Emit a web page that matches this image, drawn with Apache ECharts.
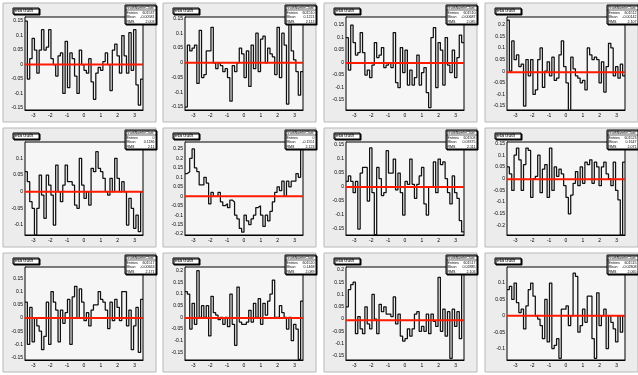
<!DOCTYPE html>
<html><head><meta charset="utf-8">
<script src="https://cdn.jsdelivr.net/npm/echarts@6/dist/echarts.min.js"></script>
<style>html,body{margin:0;padding:0;background:#fff;}#c{width:638px;height:375px;}</style>
</head><body><div id="c"></div><script>
// eta axis of every histogram
const etaMin = -3.5, etaMax = 3.5, nBins = 50;
const etaTicks = [-3, -2, -1, 0, 1, 2, 3];

// bin contents of the twelve "eta truth" histograms
const h1 = [0.15,-0.05,0.02,0.09,0.05,-0.03,0.05,0.12,0.05,0.06,0.12,0.02,0.0,-0.04,0.03,0.04,-0.1,0.08,-0.08,0.04,0.02,-0.04,-0.1,0.05,0.0,-0.02,-0.03,0.02,-0.06,-0.12,-0.03,-0.01,-0.02,0.01,0.04,0.0,-0.09,0.05,0.07,0.03,-0.03,0.1,0.03,-0.03,0.11,-0.02,0.12,-0.07,-0.14,-0.05];
const h2 = [-0.15,0.06,0.04,0.05,0.06,-0.07,0.11,-0.05,-0.04,0.04,0.04,0.12,0.0,-0.02,0.0,-0.01,-0.03,-0.02,-0.05,-0.13,-0.01,-0.03,0.0,0.05,0.03,-0.05,0.04,-0.08,0.06,-0.02,0.1,-0.03,0.08,0.09,0.0,0.05,0.03,0.02,-0.04,0.12,-0.05,0.1,0.06,-0.14,0.13,0.04,0.01,-0.03,-0.11,-0.03];
const h3 = [0.1,-0.03,0.15,0.08,0.03,0.04,0.12,0.04,-0.05,-0.03,-0.06,-0.01,0.08,0.02,0.03,0.06,-0.02,-0.01,0.0,-0.02,0.12,-0.08,-0.1,0.06,-0.04,0.05,-0.09,-0.03,-0.09,-0.06,0.03,-0.09,-0.04,-0.02,-0.12,-0.18,0.1,0.14,-0.1,0.08,0.05,-0.09,0.1,-0.01,-0.04,0.05,-0.06,0.02,0.11,0.08];
const h4 = [0.22,0.0,0.13,0.05,0.07,0.02,0.03,-0.15,0.05,-0.02,0.05,-0.1,-0.08,0.05,0.1,-0.07,0.0,0.04,-0.02,0.06,-0.04,-0.03,0.07,0.13,0.02,-0.05,-0.18,0.06,0.01,-0.02,-0.03,-0.05,-0.04,-0.08,0.1,0.07,0.05,0.06,0.05,-0.05,0.04,-0.09,0.02,0.12,0.1,-0.02,0.02,-0.03,0.03,-0.02];
const h5 = [0.06,0.03,-0.03,-0.05,-0.13,-0.05,0.05,-0.01,-0.08,0.05,0.02,-0.01,-0.1,0.08,0.0,-0.03,0.02,0.08,0.03,0.03,0.02,-0.04,-0.05,0.1,0.02,-0.02,0.0,-0.04,0.07,0.06,0.12,0.07,0.06,0.04,0.0,-0.01,0.04,0.0,0.1,0.04,0.0,0.03,0.0,-0.1,-0.02,-0.05,-0.11,-0.07,-0.12,0.0];
const h6 = [0.12,0.13,0.2,0.25,0.15,0.13,0.06,0.06,0.1,0.07,-0.04,0.02,0.0,0.0,0.02,-0.03,-0.05,-0.04,-0.06,-0.02,-0.03,-0.1,-0.12,-0.17,-0.19,-0.1,-0.13,-0.15,-0.12,-0.1,-0.06,-0.05,-0.1,-0.16,-0.1,-0.13,-0.08,-0.03,0.02,0.05,0.03,0.08,0.0,0.08,0.05,0.08,0.08,0.12,0.1,0.28];
const h7 = [0.02,0.04,0.02,-0.02,0.02,-0.15,0.05,0.07,0.07,-0.05,0.14,-0.02,-0.17,0.07,0.03,-0.03,-0.02,0.13,0.05,0.05,0.1,-0.01,0.05,-0.02,-0.1,0.02,0.01,0.1,0.01,-0.04,0.01,0.04,0.07,-0.06,-0.1,0.0,0.0,0.09,-0.02,0.1,0.08,0.09,0.03,-0.02,-0.06,0.04,-0.02,-0.04,-0.12,-0.16];
const h8 = [0.05,0.02,-0.05,0.1,0.13,0.08,-0.05,0.06,0.13,0.12,-0.08,0.0,0.01,0.1,-0.06,0.04,0.06,-0.08,0.13,-0.05,0.05,0.01,0.04,0.02,-0.03,-0.08,-0.15,-0.07,-0.02,0.03,-0.03,0.05,-0.02,0.07,0.06,0.08,-0.02,0.07,0.05,-0.03,0.05,0.07,0.02,0.0,-0.03,0.07,-0.05,-0.09,-0.24,0.07];
const h9 = [0.06,-0.1,0.04,-0.09,0.0,-0.03,-0.05,-0.12,-0.07,0.06,-0.1,0.1,0.06,0.03,-0.09,0.03,-0.02,0.02,0.07,-0.1,0.08,0.12,0.0,0.11,0.06,-0.01,0.02,-0.03,0.03,0.05,0.05,0.1,0.07,0.06,0.03,-0.04,0.06,-0.01,0.07,0.04,-0.01,0.1,0.1,-0.03,0.03,-0.12,-0.03,0.04,-0.13,0.07];
const h10 = [0.11,0.1,-0.05,0.06,-0.03,0.2,0.0,0.05,0.0,0.05,-0.08,0.09,0.02,0.01,-0.01,0.0,-0.03,0.0,-0.04,0.1,-0.03,-0.12,0.13,-0.02,-0.03,-0.03,-0.02,0.03,-0.02,0.06,0.0,0.08,-0.03,0.06,0.01,0.07,0.1,0.16,0.0,0.0,0.05,0.02,0.0,-0.05,0.0,-0.1,-0.03,-0.05,-0.18,0.07];
const h11 = [0.05,0.12,0.14,0.15,-0.06,0.01,-0.04,-0.06,0.05,-0.02,-0.04,0.1,0.0,-0.06,0.06,0.03,0.05,0.02,0.02,0.01,0.09,-0.02,0.02,-0.07,-0.09,-0.08,-0.04,-0.07,-0.04,0.02,0.03,-0.05,-0.03,-0.05,0.02,-0.06,0.02,-0.01,-0.03,0.17,-0.05,0.04,-0.07,0.03,-0.16,0.04,-0.03,0.03,-0.08,0.19];
const h12 = [0.08,0.09,0.05,0.1,0.04,0.01,0.02,-0.04,0.03,0.08,0.1,0.06,0.0,-0.01,-0.03,-0.07,0.05,-0.08,0.1,-0.1,-0.09,-0.07,-0.13,0.02,0.02,0.03,-0.03,0.0,0.13,0.12,-0.05,-0.03,0.02,-0.02,0.06,0.06,-0.07,-0.13,0.07,-0.03,0.0,0.02,-0.1,0.0,-0.02,-0.04,-0.08,0.0,-0.05,0.0];
const histograms = [h1, h2, h3, h4, h5, h6, h7, h8, h9, h10, h11, h12];

// constant fit drawn over each histogram
const fitLevels = [0.0, 0.0, -0.002, -0.005, 0.0, 0.0, 0.0, -0.003, 0.0, -0.003, -0.005, 0.0];

// vertical ranges and labelled ticks
const yMins = [-0.157, -0.16, -0.19, -0.167, -0.13, -0.205, -0.171, -0.24, -0.159, -0.183, -0.167, -0.135];
const yMaxs = [0.164, 0.155, 0.182, 0.233, 0.149, 0.287, 0.161, 0.156, 0.193, 0.216, 0.212, 0.149];
const yTickSets = [
  [-0.15,-0.1,-0.05,0,0.05,0.1,0.15],
  [-0.15,-0.1,-0.05,0,0.05,0.1,0.15],
  [-0.15,-0.1,-0.05,0,0.05,0.1,0.15],
  [-0.15,-0.1,-0.05,0,0.05,0.1,0.15,0.2],
  [-0.1,-0.05,0,0.05,0.1],
  [-0.2,-0.15,-0.1,-0.05,0,0.05,0.1,0.15,0.2,0.25],
  [-0.15,-0.1,-0.05,0,0.05,0.1,0.15],
  [-0.2,-0.15,-0.1,-0.05,0,0.05,0.1,0.15],
  [-0.15,-0.1,-0.05,0,0.05,0.1,0.15],
  [-0.15,-0.1,-0.05,0,0.05,0.1,0.15,0.2],
  [-0.15,-0.1,-0.05,0,0.05,0.1,0.15,0.2],
  [-0.1,-0.05,0,0.05,0.1]
];

// statistics boxes
const statNames = ["truthNumInClust","truthNumInClust","truthNumInClust","truthNumInClust","truthNumInClust","truthNumInClust","truthNumInClust","truthNumInClust","truthNumInClust","truthNumInClust","truthNumInClust","truthNumInClust"];
const statEntries = ["601537","601510","601510","601512","0","0","601503","601523","601517","601520","601517","601515"];
const statMeans = ["-0.00581","0.1221","-0.00687","-0.00142","0.1186","-0.1551","0.03375","0.1647","-0.00663","0.1468","0.02885","-0.02808"];
const statRms = ["2.003","2.113","2.085","2.107","2.11","2.123","2.111","2.071","2.171","2.089","2.106","2.065"];

// canvas layout
const frameLefts = [25, 185, 346, 507];
const frameTops = [17, 142, 267];
const frameW = 118, frameH = 93;

function trimNum(v) { return String(+(+v).toFixed(3)); }

const grids = [], xAxes = [], yAxes = [], series = [], graphics = [];
const binW = (etaMax - etaMin) / nBins;

histograms.forEach((vals, i) => {
  const col = i % 4, row = Math.floor(i / 4);
  const L = frameLefts[col], T = frameTops[row];
  grids.push({ left: L, top: T, width: frameW, height: frameH, show: true,
    backgroundColor: '#f6f6f6', borderColor: '#000', borderWidth: 1, z: 1 });
  const xMinorVals = [];
  for (let k = -17; k <= 17; k++) xMinorVals.push(+(k * 0.2).toFixed(2));
  const yMinorVals = [];
  for (let k = Math.ceil(yMins[i] / 0.01); k <= Math.floor(yMaxs[i] / 0.01); k++) yMinorVals.push(+(k * 0.01).toFixed(2));
  xAxes.push({ type: 'value', gridIndex: i, min: etaMin, max: etaMax, position: 'bottom',
    axisLine: { show: true, onZero: false, lineStyle: { color: '#000', width: 1 } },
    axisTick: { show: true, inside: true, length: 3, customValues: etaTicks, lineStyle: { color: '#000' } },
    axisLabel: { show: true, customValues: etaTicks, fontSize: 5, color: '#000', margin: 3,
      fontFamily: 'Liberation Sans', formatter: v => trimNum(v) },
    splitLine: { show: false } });
  xAxes.push({ type: 'value', gridIndex: i, min: etaMin, max: etaMax, position: 'bottom',
    axisLine: { show: false },
    axisTick: { show: true, inside: true, length: 1.5, customValues: xMinorVals, lineStyle: { color: '#000' } },
    axisLabel: { show: false }, splitLine: { show: false } });
  yAxes.push({ type: 'value', gridIndex: i, min: yMins[i], max: yMaxs[i], position: 'left',
    axisLine: { show: true, onZero: false, lineStyle: { color: '#000', width: 1 } },
    axisTick: { show: true, inside: true, length: 3, customValues: yTickSets[i], lineStyle: { color: '#000' } },
    axisLabel: { show: true, customValues: yTickSets[i], fontSize: 5, color: '#000', margin: 2,
      fontFamily: 'Liberation Sans', formatter: v => trimNum(v) },
    splitLine: { show: false } });
  yAxes.push({ type: 'value', gridIndex: i, min: yMins[i], max: yMaxs[i], position: 'left',
    axisLine: { show: false },
    axisTick: { show: true, inside: true, length: 1.5, customValues: yMinorVals, lineStyle: { color: '#000' } },
    axisLabel: { show: false }, splitLine: { show: false } });

  // histogram outline: one point per bin edge, stepping at the next edge
  const pts = vals.map((v, b) => [etaMin + b * binW, v]);
  pts.push([etaMax, vals[vals.length - 1]]);
  series.push({ type: 'line', xAxisIndex: 2 * i, yAxisIndex: 2 * i, data: pts, step: 'end',
    symbol: 'none', silent: true, animation: false, z: 3,
    lineStyle: { color: '#111', width: 1.25 } });
  series.push({ type: 'line', xAxisIndex: 2 * i, yAxisIndex: 2 * i,
    data: [[etaMin, fitLevels[i]], [etaMax, fitLevels[i]]],
    symbol: 'none', silent: true, animation: false, z: 4,
    lineStyle: { color: '#ff1a00', width: 2 } });

  // pad, title and statistics boxes
  graphics.push({ type: 'rect', z: -10, shape: { x: L - 22, y: T - 14, width: 153, height: 119 },
    style: { fill: '#ececec', stroke: '#b8b8b8', lineWidth: 1 } });
  graphics.push({ type: 'rect', z: 50, shape: { x: L - 12, y: T - 9, width: 26, height: 6 },
    style: { fill: '#fff', stroke: '#000', lineWidth: 1, shadowColor: '#000', shadowOffsetX: 1, shadowOffsetY: 1 } });
  graphics.push({ type: 'text', z: 51, x: L - 10, y: T - 8.5,
    style: { text: 'eta truth', fontSize: 5, fontFamily: 'Liberation Sans', fill: '#000' } });
  const SX = L + 100, SY = T - 12;
  graphics.push({ type: 'rect', z: 50, shape: { x: SX, y: SY, width: 31, height: 19 },
    style: { fill: '#fff', stroke: '#000', lineWidth: 1, shadowColor: '#000', shadowOffsetX: 1, shadowOffsetY: 1 } });
  graphics.push({ type: 'line', z: 51, shape: { x1: SX, y1: SY + 5, x2: SX + 31, y2: SY + 5 },
    style: { stroke: '#000', lineWidth: 0.6 } });
  graphics.push({ type: 'text', z: 51, x: SX + 15.5, y: SY + 0.8,
    style: { text: statNames[i], fontSize: 3.6, fontFamily: 'Liberation Sans', fill: '#000', align: 'center' } });
  [['Entries', statEntries[i]], ['Mean', statMeans[i]], ['RMS', statRms[i]]].forEach((r, k) => {
    graphics.push({ type: 'text', z: 51, x: SX + 1.5, y: SY + 6 + k * 4.3,
      style: { text: r[0], fontSize: 3.6, fontFamily: 'Liberation Sans', fill: '#000' } });
    graphics.push({ type: 'text', z: 51, x: SX + 29.5, y: SY + 6 + k * 4.3,
      style: { text: r[1], fontSize: 3.6, fontFamily: 'Liberation Sans', fill: '#000', align: 'right' } });
  });
});

const chart = echarts.init(document.getElementById('c'), null, { renderer: 'canvas' });
chart.setOption({
  animation: false,
  backgroundColor: '#fff',
  grid: grids, xAxis: xAxes, yAxis: yAxes, series: series,
  graphic: { elements: graphics }
});
</script></body></html>
